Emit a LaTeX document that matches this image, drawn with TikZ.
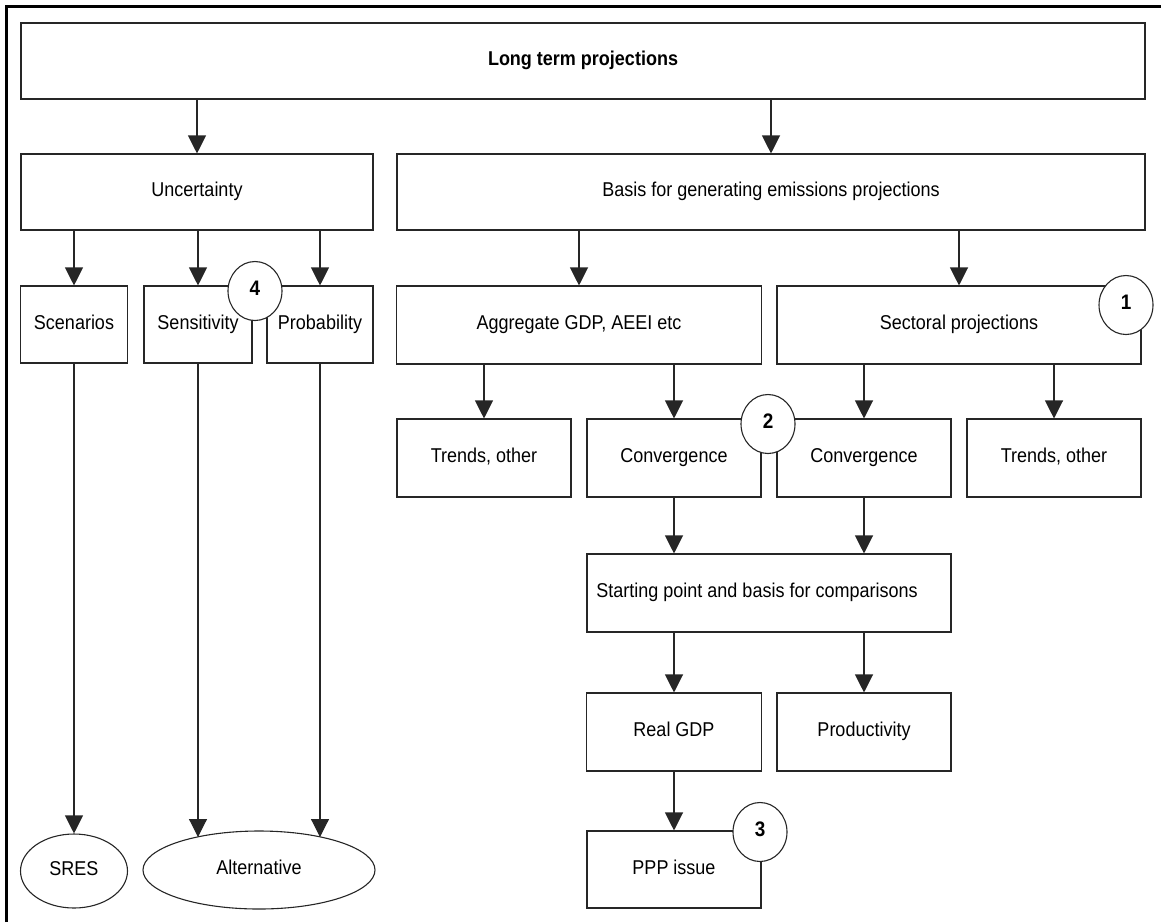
\documentclass[tikz,border=0pt]{standalone}
\usepackage{fontspec}
\setmainfont[FakeStretch=0.9]{Liberation Sans}
\usetikzlibrary{arrows.meta,shapes.geometric}
\begin{document}
\begin{tikzpicture}[x=1pt,y=-1pt,
  every node/.style={font=\fontsize{20pt}{23pt}\selectfont, inner sep=0pt, text height=14pt, text depth=5pt},
  box/.style={draw=black!85, line width=1.1pt, fill=white, rectangle},
  oval/.style={draw=black!85, line width=1.1pt, fill=white, ellipse},
  badge/.style={draw=black!85, line width=1.1pt, fill=white, ellipse, minimum width=54pt, minimum height=59pt, font=\fontsize{21pt}{24pt}\selectfont\bfseries},
  arr/.style={draw=black!85, line width=1.1pt, -{Triangle[width=18pt,length=18pt]}}
]
\useasboundingbox (0,0) rectangle (1161,922);
% outer frame (top and left only)
\draw[line width=2.6pt] (6.5,922) -- (6.5,6.5) -- (1161,6.5);

% level 0
\node[box, minimum width=1124pt, minimum height=76pt, font=\fontsize{20pt}{23pt}\selectfont\bfseries] (top) at (583,61) {Long term projections};
% level 1
\node[box, minimum width=352pt, minimum height=76pt] (unc) at (197,192) {Uncertainty};
\node[box, minimum width=748pt, minimum height=76pt] (basis) at (771,192) {Basis for generating emissions projections};
% level 2
\node[box, minimum width=107pt, minimum height=77pt] (scen) at (74,324.5) {Scenarios};
\node[box, minimum width=108pt, minimum height=77pt] (sens) at (198,324.5) {Sensitivity};
\node[box, minimum width=106pt, minimum height=77pt] (prob) at (320,324.5) {Probability};
\node[box, minimum width=365pt, minimum height=78pt] (agg) at (579,325) {Aggregate GDP, AEEI etc};
\node[box, minimum width=364pt, minimum height=78pt] (sect) at (959,325) {Sectoral projections};
% level 3
\node[box, minimum width=174pt, minimum height=78pt] (trL) at (484,458) {Trends, other};
\node[box, minimum width=174pt, minimum height=78pt] (convL) at (674,458) {Convergence};
\node[box, minimum width=174pt, minimum height=78pt] (convR) at (864,458) {Convergence};
\node[box, minimum width=174pt, minimum height=78pt] (trR) at (1054,458) {Trends, other};
% level 4
\node[box, minimum width=364pt, minimum height=78pt] (start) at (769,593) {\hspace*{-24pt}Starting point and basis for comparisons};
% level 5
\node[box, minimum width=175pt, minimum height=78pt] (real) at (674,732) {Real GDP};
\node[box, minimum width=174pt, minimum height=78pt] (prod) at (864,732) {Productivity};
% level 6
\node[box, minimum width=174pt, minimum height=77pt] (ppp) at (674,869.5) {PPP issue};
\node[oval, minimum width=107pt, minimum height=74pt] (sres) at (74,871) {SRES};
\node[oval, minimum width=232pt, minimum height=78pt] (alt) at (259,870) {Alternative};
\coordinate (altL) at (198,837);
\coordinate (altR) at (320,837);

% connectors
\draw[arr] (top.south -| unc.north) -- (unc.north);
\draw[arr] (top.south -| basis.north) -- (basis.north);
\draw[arr] (unc.south -| scen.north) -- (scen.north);
\draw[arr] (unc.south -| sens.north) -- (sens.north);
\draw[arr] (unc.south -| prob.north) -- (prob.north);
\draw[arr] (basis.south -| agg.north) -- (agg.north);
\draw[arr] (basis.south -| sect.north) -- (sect.north);
\draw[arr] (agg.south -| trL.north) -- (trL.north);
\draw[arr] (agg.south -| convL.north) -- (convL.north);
\draw[arr] (sect.south -| convR.north) -- (convR.north);
\draw[arr] (sect.south -| trR.north) -- (trR.north);
\draw[arr] (convL.south) -- (convL.south |- start.north);
\draw[arr] (convR.south) -- (convR.south |- start.north);
\draw[arr] (start.south -| real.north) -- (real.north);
\draw[arr] (start.south -| prod.north) -- (prod.north);
\draw[arr] (real.south) -- (ppp.north);
\draw[arr] (scen.south) -- (sres.north);
\draw[arr] (sens.south) -- (altL);
\draw[arr] (prob.south) -- (altR);

% numbered badges
\node[badge] (b4) at (255,291) {4};
\node[badge] (b1) at (1126,305) {1};
\node[badge] (b2) at (768,424) {2};
\node[badge] (b3) at (760,832) {3};
\end{tikzpicture}
\end{document}
